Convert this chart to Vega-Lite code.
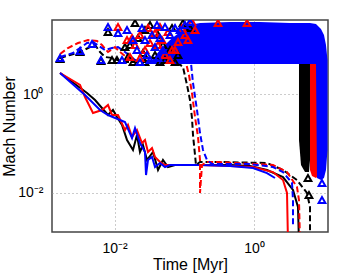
{
  "$schema": "https://vega.github.io/schema/vega-lite/v6.json",
  "width": 276,
  "height": 212,
  "autosize": {"type": "none"},
  "padding": {"left": 52, "top": 20, "right": 34, "bottom": 41},
  "background": "white",
  "config": {
    "font": "Liberation Sans",
    "view": {"stroke": "#444", "strokeWidth": 1.5}
  },
  "datasets": {
    "solid": [
      {"c":"k","t":0.00165,"m":2.71},{"c":"k","t":0.00402,"m":1.063},{"c":"k","t":0.00524,"m":0.766},{"c":"k","t":0.00804,"m":0.38},{"c":"k","t":0.00948,"m":0.48},{"c":"k","t":0.01082,"m":0.346},{"c":"k","t":0.01277,"m":0.238},{"c":"k","t":0.01507,"m":0.118},{"c":"k","t":0.01836,"m":0.0738},{"c":"k","t":0.02094,"m":0.149},{"c":"k","t":0.02312,"m":0.0672},{"c":"k","t":0.02553,"m":0.0932},{"c":"k","t":0.02917,"m":0.0462},{"c":"k","t":0.03557,"m":0.0672},{"c":"k","t":0.04198,"m":0.0289},{"c":"k","t":0.04943,"m":0.0462},{"c":"k","t":0.05834,"m":0.0333},{"c":"k","t":0.0736,"m":0.0366},{"c":"k","t":0.168,"m":0.0366},{"c":"k","t":0.453,"m":0.0366},{"c":"k","t":0.877,"m":0.0349},{"c":"k","t":1.537,"m":0.0289},{"c":"k","t":2.607,"m":0.0208},{"c":"k","t":3.627,"m":0.01135},{"c":"k","t":4.278,"m":0.00512},{"c":"k","t":4.42,"m":0.001},
      {"c":"r","t":0.00165,"m":2.71},{"c":"r","t":0.00319,"m":1.55},{"c":"r","t":0.00376,"m":0.881},{"c":"r","t":0.0049,"m":0.417},{"c":"r","t":0.00659,"m":0.48},{"c":"r","t":0.00804,"m":0.606},{"c":"r","t":0.00918,"m":0.38},{"c":"r","t":0.01119,"m":0.38},{"c":"r","t":0.01409,"m":0.188},{"c":"r","t":0.01556,"m":0.238},{"c":"r","t":0.01778,"m":0.1355},{"c":"r","t":0.02094,"m":0.188},{"c":"r","t":0.02472,"m":0.1024},{"c":"r","t":0.02729,"m":0.1178},{"c":"r","t":0.03013,"m":0.0672},{"c":"r","t":0.03443,"m":0.081},{"c":"r","t":0.03802,"m":0.0532},{"c":"r","t":0.04479,"m":0.0421},{"c":"r","t":0.05284,"m":0.0366},{"c":"r","t":0.168,"m":0.0366},{"c":"r","t":0.453,"m":0.0349},{"c":"r","t":0.968,"m":0.0333},{"c":"r","t":1.873,"m":0.0263},{"c":"r","t":2.607,"m":0.0181},{"c":"r","t":2.976,"m":0.00986},{"c":"r","t":3.075,"m":0.001},
      {"c":"b","t":0.00165,"m":2.71},{"c":"b","t":0.00376,"m":0.968},{"c":"b","t":0.00618,"m":0.48},{"c":"b","t":0.00804,"m":0.38},{"c":"b","t":0.01194,"m":0.3},{"c":"b","t":0.01409,"m":0.2735},{"c":"b","t":0.01778,"m":0.1294},{"c":"b","t":0.01963,"m":0.2065},{"c":"b","t":0.02312,"m":0.1024},{"c":"b","t":0.02729,"m":0.0672},{"c":"b","t":0.02823,"m":0.0229},{"c":"b","t":0.03013,"m":0.0462},{"c":"b","t":0.03443,"m":0.0532},{"c":"b","t":0.03802,"m":0.0333},{"c":"b","t":0.04479,"m":0.0402},{"c":"b","t":0.05284,"m":0.0333},{"c":"b","t":0.06237,"m":0.0366},{"c":"b","t":0.168,"m":0.0366},{"c":"b","t":0.453,"m":0.0349},{"c":"b","t":0.968,"m":0.0318},{"c":"b","t":1.537,"m":0.0251},{"c":"b","t":2.001,"m":0.0199}
    ],
    "dashed": [
      {"c":"k","t":0.00165,"m":5.47},{"c":"k","t":0.00229,"m":6.29},{"c":"k","t":0.00319,"m":7.24},{"c":"k","t":0.00444,"m":9.15},{"c":"k","t":0.00524,"m":10.05},{"c":"k","t":0.00618,"m":7.24},{"c":"k","t":0.00728,"m":5.73},{"c":"k","t":0.00948,"m":5.47},{"c":"k","t":0.01277,"m":4.53},{"c":"k","t":0.0322,"m":4.53},{"c":"k","t":0.0813,"m":4.33},{"c":"k","t":0.0957,"m":3.59},{"c":"k","t":0.1094,"m":1.55},{"c":"k","t":0.1207,"m":0.766},{"c":"k","t":0.1289,"m":0.33},{"c":"k","t":0.1333,"m":0.149},{"c":"k","t":0.1425,"m":0.0584},{"c":"k","t":0.1472,"m":0.0366},{"c":"k","t":0.168,"m":0.0421},{"c":"k","t":0.3251,"m":0.0421},{"c":"k","t":1.537,"m":0.0402},{"c":"k","t":2.607,"m":0.0289},{"c":"k","t":4.14,"m":0.0181},{"c":"k","t":5.759,"m":0.00986},{"c":"k","t":6.36,"m":0.00512},{"c":"k","t":6.36,"m":0.001},
      {"c":"r","t":0.00165,"m":6.59},{"c":"r","t":0.00214,"m":8.73},{"c":"r","t":0.00299,"m":11.03},{"c":"r","t":0.00415,"m":12.7},{"c":"r","t":0.00559,"m":12.12},{"c":"r","t":0.00659,"m":10.05},{"c":"r","t":0.00804,"m":7.24},{"c":"r","t":0.01014,"m":9.15},{"c":"r","t":0.01194,"m":7.24},{"c":"r","t":0.01663,"m":4.98},{"c":"r","t":0.1057,"m":4.33},{"c":"r","t":0.1167,"m":2.47},{"c":"r","t":0.1289,"m":1.063},{"c":"r","t":0.1425,"m":0.346},{"c":"r","t":0.1573,"m":0.1355},{"c":"r","t":0.168,"m":0.0462},{"c":"r","t":0.168,"m":0.00986},{"c":"r","t":0.1795,"m":0.0366},{"c":"r","t":0.2118,"m":0.0421},{"c":"r","t":0.2945,"m":0.0421},{"c":"r","t":1.873,"m":0.0366},{"c":"r","t":2.976,"m":0.0263},{"c":"r","t":4.14,"m":0.01306},{"c":"r","t":4.422,"m":0.0071},{"c":"r","t":4.571,"m":0.001},
      {"c":"b","t":0.00165,"m":5.73},{"c":"b","t":0.00253,"m":6.91},{"c":"b","t":0.00402,"m":11.03},{"c":"b","t":0.0049,"m":11.56},{"c":"b","t":0.00728,"m":7.95},{"c":"b","t":0.00918,"m":8.73},{"c":"b","t":0.01119,"m":9.15},{"c":"b","t":0.01409,"m":7.24},{"c":"b","t":0.01963,"m":4.98},{"c":"b","t":0.1247,"m":4.33},{"c":"b","t":0.1333,"m":1.7},{"c":"b","t":0.1521,"m":0.48},{"c":"b","t":0.168,"m":0.1634},{"c":"b","t":0.1855,"m":0.0738},{"c":"b","t":0.2118,"m":0.0462},{"c":"b","t":0.2497,"m":0.0383},{"c":"b","t":0.877,"m":0.0383},{"c":"b","t":1.873,"m":0.0333},{"c":"b","t":2.607,"m":0.0263},{"c":"b","t":3.51,"m":0.01575},{"c":"b","t":3.627,"m":0.0071},{"c":"b","t":3.627,"m":0.00201}
    ],
    "band": [
      {"c":"k","t":4.422,"m":4.13,"m2":0.1178},{"c":"k","t":4.724,"m":4.13,"m2":0.0366},{"c":"k","t":5.393,"m":4.13,"m2":0.0263},{"c":"k","t":6.152,"m":4.13,"m2":0.0263},{"c":"k","t":6.36,"m":4.13,"m2":0.0462},
      {"c":"r","t":6.36,"m":4.13,"m2":0.0289},{"c":"r","t":6.794,"m":4.13,"m2":0.0218},{"c":"r","t":7.755,"m":4.13,"m2":0.0199},{"c":"r","t":8.283,"m":4.13,"m2":0.0218},
      {"c":"b","t":0.03443,"m":4.98,"m2":4.13},{"c":"b","t":0.04479,"m":7.95,"m2":4.13},{"c":"b","t":0.06237,"m":12.7,"m2":4.13},{"c":"b","t":0.08676,"m":18.46,"m2":4.13},{"c":"b","t":0.1207,"m":25.62,"m2":4.13},{"c":"b","t":0.168,"m":28.13,"m2":4.13},{"c":"b","t":0.4528,"m":29.48,"m2":4.13},{"c":"b","t":1.219,"m":29.48,"m2":4.13},{"c":"b","t":3.285,"m":28.13,"m2":4.13},{"c":"b","t":6.36,"m":28.13,"m2":4.13},{"c":"b","t":7.755,"m":26.85,"m2":4.13},{"c":"b","t":8.013,"m":25.62,"m2":0.0199},{"c":"b","t":9.148,"m":21.24,"m2":0.0181},{"c":"b","t":10.1,"m":16.04,"m2":0.0199},{"c":"b","t":10.79,"m":10.05,"m2":0.0289},{"c":"b","t":11.34,"m":4.98,"m2":0.0738}
    ],
    "tri": [
      {"c":"k","t":0.00165,"m":5.22},{"c":"k","t":0.00319,"m":7.24},{"c":"k","t":0.00638,"m":4.75},{"c":"k","t":0.00804,"m":18.46},{"c":"k","t":0.00918,"m":4.98},{"c":"k","t":0.01082,"m":4.98},{"c":"k","t":0.01409,"m":9.15},{"c":"k","t":0.01556,"m":5.73},{"c":"k","t":0.01963,"m":28.13},{"c":"k","t":0.02168,"m":13.94},{"c":"k","t":0.02553,"m":6.91},{"c":"k","t":0.03221,"m":25.62},{"c":"k","t":0.03802,"m":6.29},{"c":"k","t":0.04943,"m":10.05},{"c":"k","t":0.06237,"m":7.95},{"c":"k","t":0.0957,"m":28.13},{"c":"k","t":0.1207,"m":22.26},{"c":"k","t":0.02729,"m":4.53},{"c":"k","t":0.01836,"m":4.53},{"c":"k","t":0.04479,"m":4.53},{"c":"k","t":0.0736,"m":4.53},{"c":"k","t":0.02729,"m":20.28},{"c":"k","t":0.04198,"m":16.04},{"c":"k","t":0.05284,"m":4.98},{"c":"k","t":0.06668,"m":22.26},{"c":"k","t":0.08128,"m":6.29},{"c":"k","t":0.01663,"m":10.05},{"c":"k","t":5.953,"m":0.0199},{"c":"k","t":6.152,"m":0.00898},
      {"c":"r","t":0.01119,"m":23.33},{"c":"r","t":0.01507,"m":12.7},{"c":"r","t":0.01778,"m":13.94},{"c":"r","t":0.02312,"m":16.04},{"c":"r","t":0.01663,"m":5.73},{"c":"r","t":0.02729,"m":7.95},{"c":"r","t":0.03221,"m":11.03},{"c":"r","t":0.03802,"m":17.62},{"c":"r","t":0.04479,"m":23.33},{"c":"r","t":0.05284,"m":6.29},{"c":"r","t":0.05834,"m":18.46},{"c":"r","t":0.0736,"m":7.95},{"c":"r","t":0.08128,"m":11.56},{"c":"r","t":0.1023,"m":16.04},{"c":"r","t":0.1425,"m":20.28},{"c":"r","t":0.3044,"m":28.13},{"c":"r","t":0.7937,"m":28.13},{"c":"r","t":0.02312,"m":5.47},{"c":"r","t":0.04198,"m":10.05},{"c":"r","t":0.01963,"m":10.05},{"c":"r","t":0.03013,"m":22.26},{"c":"r","t":0.04786,"m":12.7},{"c":"r","t":0.06668,"m":7.95},{"c":"r","t":0.0927,"m":22.26},{"c":"r","t":0.113,"m":12.7},{"c":"r","t":0.06237,"m":4.98},{"c":"r","t":0.1289,"m":29.48},
      {"c":"b","t":0.00165,"m":5.47},{"c":"b","t":0.00319,"m":7.59},{"c":"b","t":0.00474,"m":10.53},{"c":"b","t":0.00638,"m":4.98},{"c":"b","t":0.00804,"m":23.33},{"c":"b","t":0.01119,"m":17.62},{"c":"b","t":0.01277,"m":4.98},{"c":"b","t":0.01507,"m":20.28},{"c":"b","t":0.02094,"m":7.95},{"c":"b","t":0.02729,"m":12.7},{"c":"b","t":0.02917,"m":6.29},{"c":"b","t":0.03221,"m":4.98},{"c":"b","t":0.03802,"m":9.15},{"c":"b","t":0.04198,"m":5.47},{"c":"b","t":0.04479,"m":13.94},{"c":"b","t":0.05284,"m":23.33},{"c":"b","t":0.06237,"m":16.04},{"c":"b","t":0.0736,"m":22.26},{"c":"b","t":0.08676,"m":20.28},{"c":"b","t":0.1023,"m":25.62},{"c":"b","t":0.02312,"m":4.53},{"c":"b","t":0.01836,"m":12.7},{"c":"b","t":0.02472,"m":22.26},{"c":"b","t":0.03443,"m":16.04},{"c":"b","t":0.04057,"m":25.62},{"c":"b","t":0.04943,"m":7.95},{"c":"b","t":0.1207,"m":29.48},{"c":"b","t":9.454,"m":0.01575},{"c":"b","t":9.454,"m":0.0071}
    ]
  },
  "encoding": {
    "x": {
      "field": "t", "type": "quantitative",
      "scale": {"type": "log", "domain": [0.001264, 11.53], "nice": false},
      "axis": {
        "title": "Time [Myr]", "values": [0.01, 1],
        "labelExpr": "datum.value < 0.1 ? '10⁻²' : '10⁰'",
        "grid": true, "gridDash": [1, 3], "gridColor": "#999", "gridWidth": 1,
        "ticks": false, "domain": false,
        "labelFontSize": 14, "labelColor": "#000", "labelPadding": 9,
        "titleFontSize": 16, "titleFontWeight": "normal", "titleColor": "#000", "titlePadding": 1
      }
    },
    "y": {
      "field": "m", "type": "quantitative",
      "scale": {"type": "log", "domain": [0.00159, 32.4], "nice": false},
      "axis": {
        "title": "Mach Number", "values": [0.01, 1],
        "labelExpr": "datum.value < 0.1 ? '10⁻²' : '10⁰'",
        "grid": true, "gridDash": [1, 3], "gridColor": "#999", "gridWidth": 1,
        "ticks": false, "domain": false,
        "labelFontSize": 14, "labelColor": "#000", "labelPadding": 9,
        "titleFontSize": 16, "titleFontWeight": "normal", "titleColor": "#000",
        "titleX": -35, "titleY": 106, "titleAngle": -90, "titleAlign": "center", "titleBaseline": "bottom"
      }
    },
    "color": {
      "field": "c", "type": "nominal",
      "scale": {"domain": ["k", "r", "b"], "range": ["#000000", "#ff0000", "#0000ff"]},
      "legend": null
    }
  },
  "layer": [
    {
      "data": {"name": "solid"},
      "mark": {"type": "line", "strokeWidth": 2, "clip": true},
      "encoding": {"order": {"value": null}}
    },
    {
      "data": {"name": "dashed"},
      "mark": {"type": "line", "strokeWidth": 2, "strokeDash": [6, 3], "clip": true},
      "encoding": {"order": {"value": null}}
    },
    {
      "data": {"name": "band"},
      "mark": {"type": "area", "clip": true, "opacity": 1},
      "encoding": {"y2": {"field": "m2"}}
    },
    {
      "data": {"name": "tri"},
      "mark": {"type": "point", "shape": "triangle-up", "filled": false, "strokeWidth": 2, "size": 45, "opacity": 1, "clip": true}
    }
  ]
}
